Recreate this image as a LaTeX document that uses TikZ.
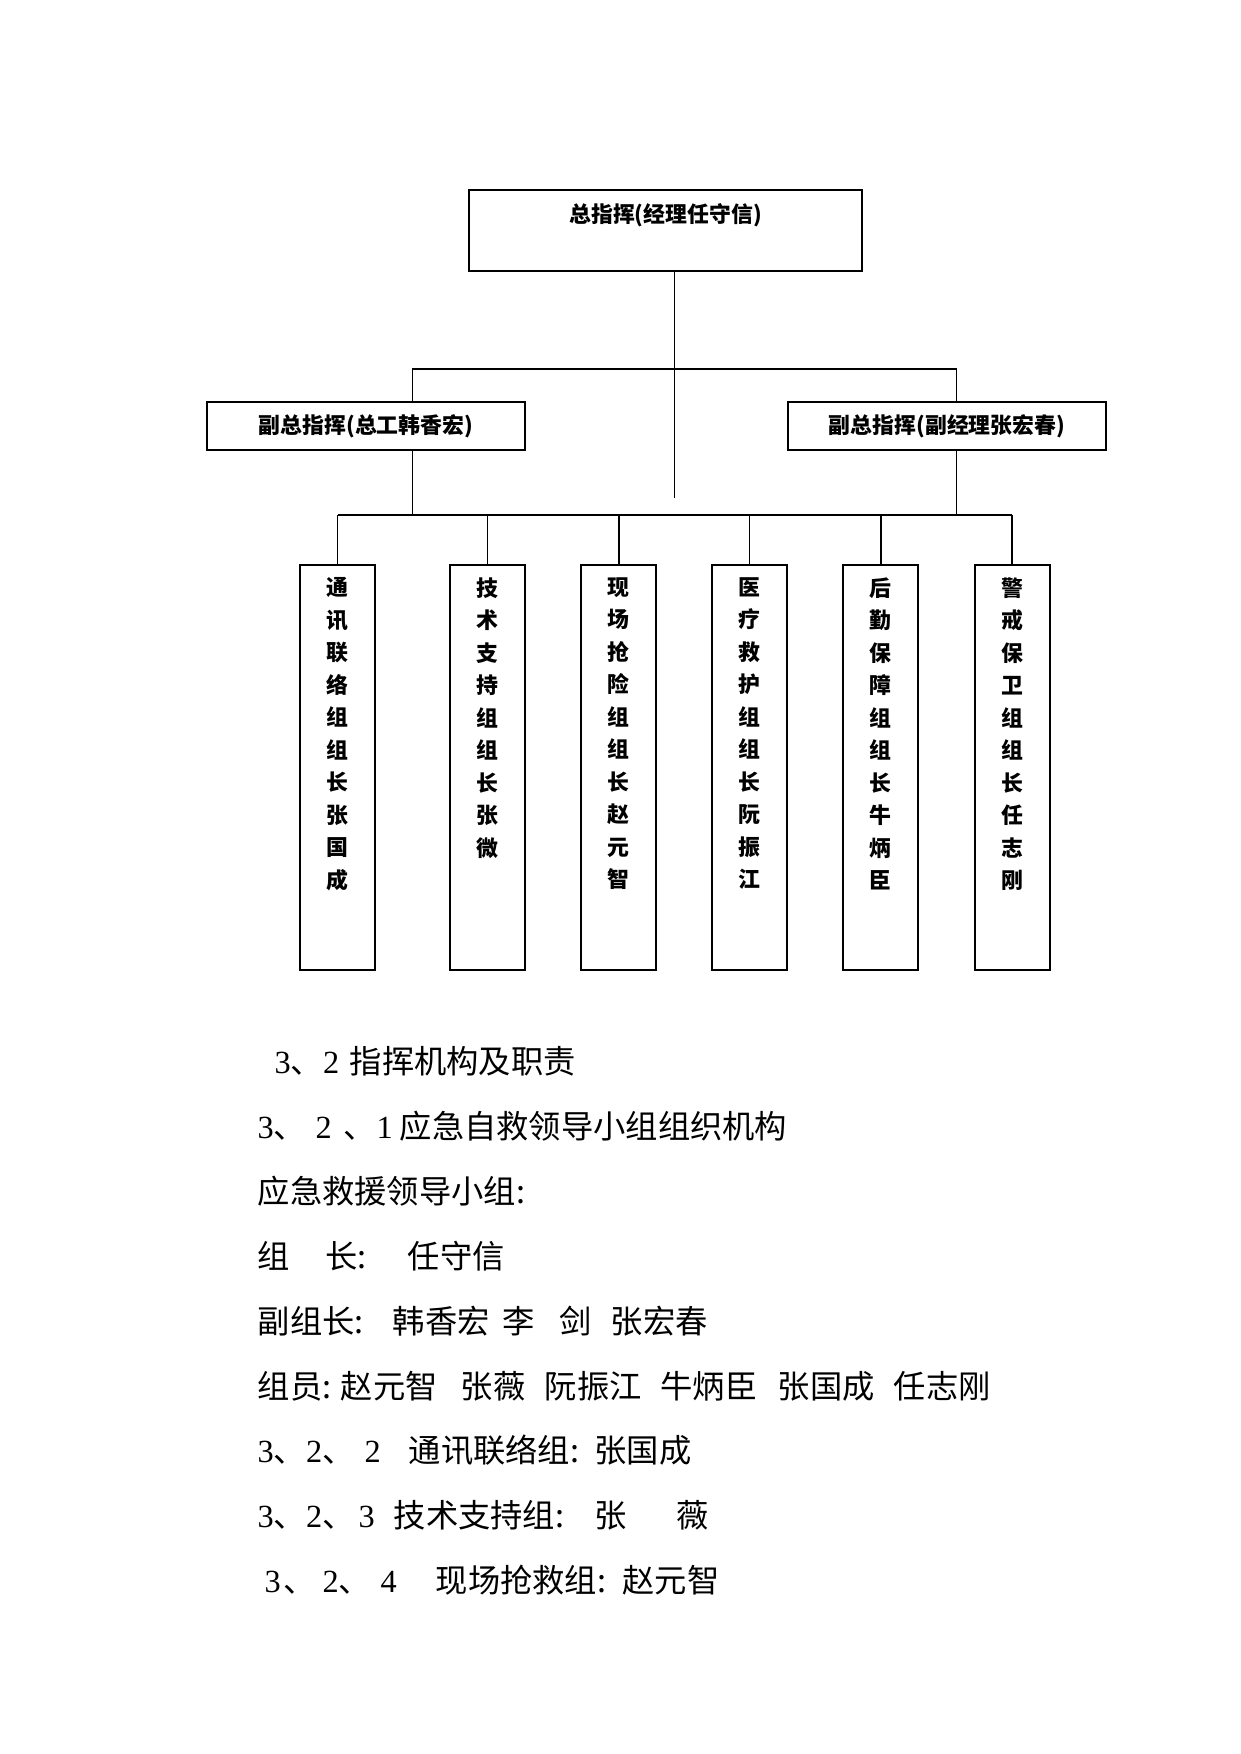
\documentclass[tikz,border=0pt]{standalone}
\usepackage{fontspec}
\setmainfont{Noto Sans CJK SC}
\newfontfamily\lat{Liberation Serif}
\usetikzlibrary{positioning}
\newdimen\pxu \pxu=0.48pt
\newcommand{\seg}[2]{\makebox[#1\pxu][l]{#2}}
\newcommand{\dg}[1]{{\lat #1}}

\begin{document}
\begin{tikzpicture}[x=0.48pt, y=-0.48pt, line width=0.7pt,
    box/.style={draw, line width=0.9pt, inner sep=0pt},
    chart/.style={font=\fontsize{10.5}{15.6}\selectfont\bfseries, inner sep=0pt, align=center},
    body/.style={font=\fontsize{15.5}{18}\selectfont, inner sep=0pt, anchor=west}]
\useasboundingbox (0,0) rectangle (1241,1754);

\node[box, minimum width=188.6pt, minimum height=38.9pt] (chief) at (665.5,230.5) {};
\node[chart, below=6.7pt of chief.north] (chieftxt) {总指挥(经理任守信)};
\node[box, chart, minimum width=152.6pt, minimum height=23pt] (vl) at (366,426) {副总指挥(总工韩香宏)};
\node[box, chart, minimum width=152.6pt, minimum height=23pt] (vr) at (947,426) {副总指挥(副经理张宏春)};

\foreach \i/\x/\t in {1/337.7/{通\\讯\\联\\络\\组\\组\\长\\张\\国\\成},
                      2/487.6/{技\\术\\支\\持\\组\\组\\长\\张\\微},
                      3/618.9/{现\\场\\抢\\险\\组\\组\\长\\赵\\元\\智},
                      4/749.6/{医\\疗\\救\\护\\组\\组\\长\\阮\\振\\江},
                      5/880.9/{后\\勤\\保\\障\\组\\组\\长\\牛\\炳\\臣},
                      6/1012.2/{警\\戒\\保\\卫\\组\\组\\长\\任\\志\\刚}} {
    \node[box, minimum width=36pt, minimum height=194.4pt] (g\i) at (\x,767.5) {};
    \node[chart, below=6pt of g\i.north] (t\i) {\t};
}

\coordinate (trunk) at (674.6,498);
\coordinate (lj) at (412.6,369);
\coordinate (rj) at (956.4,369);
\coordinate (bar) at (0,515);
\draw (chief.south -| trunk) -- (trunk);
\draw (lj |- vl.north) -- (lj) -- (rj) -- (rj |- vr.north);
\draw (lj |- vl.south) -- (lj |- bar);
\draw (rj |- vr.south) -- (rj |- bar);
\draw (g1.north |- bar) -- (g6.north |- bar);
\foreach \i in {1,...,6}
    \draw (g\i.north) -- (g\i.north |- bar);

\node[body] (s1) at (274,1061) {\seg{75}{\dg{3}、\dg{2}}指挥机构及职责};
\node[body] (s2) at (257,1126) {\seg{58}{\dg{3}、}\seg{28}{\dg{2}}\seg{33}{、}\seg{23}{\dg{1}}应急自救领导小组组织机构};
\node[body] (s3) at (257,1191) {应急救援领导小组:};
\node[body] (s4) at (257,1256) {\seg{68}{组}\seg{82}{长:}任守信};
\node[body] (s5) at (257,1321) {\seg{135}{副组长:}\seg{110}{韩香宏}\seg{57}{李}\seg{51}{剑}张宏春};
\node[body] (s6) at (257,1386) {\seg{83}{组员:}\seg{120}{赵元智}\seg{84}{张薇}\seg{116}{阮振江}\seg{117}{牛炳臣}\seg{116}{张国成}任志刚};
\node[body] (s7) at (257,1450) {\seg{107}{\dg{3}、\dg{2}、}\seg{44}{\dg{2}}\seg{186}{通讯联络组:}张国成};
\node[body] (s8) at (257,1515) {\seg{101}{\dg{3}、\dg{2}、}\seg{35}{\dg{3}}\seg{201}{技术支持组:}\seg{82}{张}薇};
\node[body] (s9) at (264,1580) {\seg{19}{\dg{3}}\seg{39}{、}\seg{58}{\dg{2}、}\seg{55}{\dg{4}}\seg{187}{现场抢救组:}赵元智};
\end{tikzpicture}
\end{document}
